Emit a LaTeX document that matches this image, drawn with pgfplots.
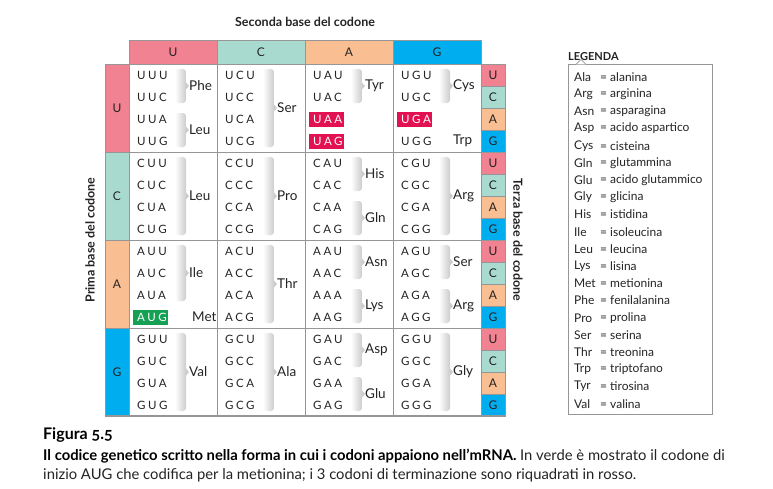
\documentclass[border=0pt]{standalone}
\usepackage{pgfplots}
\pgfplotsset{compat=1.18}
\usepackage{fontspec}
\setmainfont{Lato}
\newfontfamily\codonfont[LetterSpace=22]{Lato}

\definecolor{cU}{RGB}{240,130,146}
\definecolor{cC}{RGB}{168,218,208}
\definecolor{cA}{RGB}{249,190,145}
\definecolor{cG}{RGB}{0,174,239}
\definecolor{stopred}{RGB}{226,18,82}
\definecolor{startgreen}{RGB}{22,160,84}
\definecolor{ink}{RGB}{35,35,35}
\definecolor{rule}{RGB}{150,150,150}

\begin{document}
\begin{tikzpicture}
\begin{axis}[
    x=1pt, y=1pt,
    xmin=0, xmax=773, ymin=0, ymax=488,
    y dir=reverse,
    hide axis,
    clip=false,
]
\pgfplotsextra{
  \path (0,0) rectangle (773,488);
  % titles
  \node[font=\bfseries\fontsize{12.5}{14}\selectfont,text=ink] at (305,22) {Seconda base del codone};
  \node[font=\bfseries\fontsize{12.5}{14}\selectfont,text=ink,rotate=90] at (90,240) {Prima base del codone};
  \node[font=\bfseries\fontsize{12.5}{14}\selectfont,text=ink,rotate=-90] at (518,240) {Terza base del codone};

  % header row, left strip, right strip
  \foreach \b [count=\i from 0] in {U,C,A,G}{
    \pgfmathsetmacro\xl{129+88*\i}
    \pgfmathsetmacro\xr{217+88*\i}
    \pgfmathsetmacro\xm{173+88*\i}
    \fill[c\b] (\xl,40) rectangle (\xr,64);
    \draw[rule,line width=0.6pt] (\xl,40) rectangle (\xr,64);
    \node[font=\fontsize{12}{14}\selectfont,text=ink] at (\xm,52) {\b};
    \pgfmathsetmacro\yt{64+88*\i}
    \pgfmathsetmacro\yb{152+88*\i}
    \pgfmathsetmacro\ym{108+88*\i}
    \fill[c\b] (105,\yt) rectangle (129,\yb);
    \draw[rule,line width=0.6pt] (105,\yt) rectangle (129,\yb);
    \node[font=\fontsize{12}{14}\selectfont,text=ink] at (117,\ym) {\b};
    \foreach \c [count=\k from 0] in {U,C,A,G}{
      \pgfmathsetmacro\st{64+88*\i+22*\k}
      \pgfmathsetmacro\sb{86+88*\i+22*\k}
      \pgfmathsetmacro\sm{75+88*\i+22*\k}
      \fill[c\c] (481,\st) rectangle (505,\sb);
      \draw[rule,line width=0.6pt] (481,\st) rectangle (505,\sb);
      \node[font=\fontsize{12}{14}\selectfont,text=ink] at (493,\sm) {\c};
    }
  }

  % grid lines of the body
  \foreach \xx in {217,305,393}{
    \draw[rule,line width=0.8pt] (\xx,64) -- (\xx,416);
  }
  \foreach \yy in {152,240,328}{
    \draw[rule,line width=0.8pt] (129,\yy) -- (481,\yy);
  }
  \draw[rule,line width=1.2pt] (105,416) -- (505,416);

  % amino acid brackets: column/row/first/last/label
  \foreach \j/\i/\ka/\kb/\lab in {
      0/0/0/1/Phe, 0/0/2/3/Leu, 1/0/0/3/Ser, 2/0/0/1/Tyr, 3/0/0/1/Cys,
      0/1/0/3/Leu, 1/1/0/3/Pro, 2/1/0/1/His, 2/1/2/3/Gln, 3/1/0/3/Arg,
      0/2/0/2/Ile, 1/2/0/3/Thr, 2/2/0/1/Asn, 2/2/2/3/Lys, 3/2/0/1/Ser, 3/2/2/3/Arg,
      0/3/0/3/Val, 1/3/0/3/Ala, 2/3/0/1/Asp, 2/3/2/3/Glu, 3/3/0/3/Gly}{
    \pgfmathsetmacro\xa{129+88*\j+46}
    \pgfmathsetmacro\xb{129+88*\j+57}
    \pgfmathsetmacro\xp{129+88*\j+60}
    \pgfmathsetmacro\ya{64+88*\i+22*\ka+5}
    \pgfmathsetmacro\yb{64+88*\i+22*(\kb+1)-5}
    \pgfmathsetmacro\ymid{(\ya+\yb)/2}
    \pgfmathsetmacro\yu{\ymid-3.5}
    \pgfmathsetmacro\yd{\ymid+3.5}
    \shade[left color=white,right color=black!20,rounded corners=3pt] (\xa,\ya) rectangle (\xb,\yb);
    \fill[black!20] (\xb,\yu) -- (\xp,\ymid) -- (\xb,\yd) -- cycle;
    \node[anchor=west,inner sep=0pt,font=\fontsize{13.5}{15}\selectfont,text=ink] at (\xp,\ymid) {\lab};
  }
  \node[anchor=west,inner sep=0pt,font=\fontsize{13.5}{15}\selectfont,text=ink] at (192,317) {Met};
  \node[anchor=west,inner sep=0pt,font=\fontsize{13.5}{15}\selectfont,text=ink] at (453,141) {Trp};

  % codons
  \foreach \f [count=\i from 0] in {U,C,A,G}{
    \foreach \s [count=\j from 0] in {U,C,A,G}{
      \foreach \t [count=\k from 0] in {U,C,A,G}{
        \pgfmathsetmacro\cx{137+88*\j}
        \pgfmathsetmacro\cy{75+88*\i+22*\k}
        \node[anchor=west,inner sep=0pt,font=\codonfont\fontsize{11.5}{13}\selectfont,text=ink] at (\cx,\cy) {\f\s\t};
      }
    }
  }

  % stop codons and start codon
  \foreach \xa/\ym/\cod/\col in {305/119/UAA/stopred, 305/141/UAG/stopred, 393/119/UGA/stopred, 129/317/AUG/startgreen}{
    \pgfmathsetmacro\bx{\xa+4}
    \pgfmathsetmacro\ex{\xa+39}
    \pgfmathsetmacro\by{\ym-7.5}
    \pgfmathsetmacro\ey{\ym+7.5}
    \pgfmathsetmacro\tx{\xa+8}
    \fill[\col] (\bx,\by) rectangle (\ex,\ey);
    \node[anchor=west,inner sep=0pt,font=\codonfont\fontsize{11.5}{13}\selectfont,text=white] at (\tx,\ym) {\cod};
  }

  % legend
  \node[anchor=west,inner sep=0pt,font=\bfseries\fontsize{11}{13}\selectfont,text=ink] at (568,57) {LEGENDA};
  \draw[rule,line width=0.7pt] (568,64) rectangle (712,414);
  \draw[rule,line width=0.7pt,fill=white] (576,64.4) -- (581,59.5) -- (586,64.4);
  \foreach \ab/\nm [count=\n from 0] in {Ala/alanina, Arg/arginina, Asn/asparagina,
      Asp/acido aspartico, Cys/cisteina, Gln/glutammina, Glu/acido glutammico,
      Gly/glicina, His/istidina, Ile/isoleucina, Leu/leucina, Lys/lisina,
      Met/metionina, Phe/fenilalanina, Pro/prolina, Ser/serina, Thr/treonina,
      Trp/triptofano, Tyr/tirosina, Val/valina}{
    \pgfmathsetmacro\ly{77+17.2*\n}
    \node[anchor=west,inner sep=0pt,font=\fontsize{12}{14}\selectfont,text=ink] at (574,\ly) {\ab};
    \node[anchor=west,inner sep=0pt,font=\fontsize{12}{14}\selectfont,text=ink] at (600,\ly) {= \nm};
  }

  % caption
  \node[anchor=west,inner sep=0pt,font=\bfseries\fontsize{16}{18}\selectfont,text=black] at (43,435) {Figura {\addfontfeatures{Numbers=OldStyle}5.5}};
  \node[anchor=west,inner sep=0pt,font=\fontsize{14.8}{17}\selectfont,text=ink] at (43,456)
    {{\bfseries\color{black}Il codice genetico scritto nella forma in cui i codoni appaiono nell’mRNA.} In verde è mostrato il codone di};
  \node[anchor=west,inner sep=0pt,font=\fontsize{14.8}{17}\selectfont,text=ink] at (43,475)
    {inizio AUG che codifica per la metionina; i 3 codoni di terminazione sono riquadrati in rosso.};
}
\end{axis}
\end{tikzpicture}
\end{document}
